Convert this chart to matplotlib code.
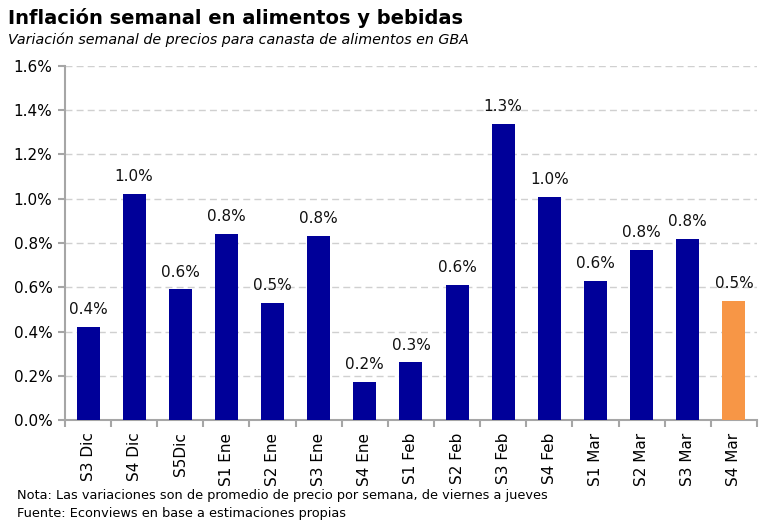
import matplotlib
matplotlib.use("Agg")
import matplotlib.pyplot as plt
from matplotlib.ticker import FuncFormatter, FixedLocator
import numpy as np

categories = ["S3 Dic", "S4 Dic", "S5Dic", "S1 Ene", "S2 Ene", "S3 Ene", "S4 Ene",
              "S1 Feb", "S2 Feb", "S3 Feb", "S4 Feb", "S1 Mar", "S2 Mar", "S3 Mar", "S4 Mar"]
values = [0.42, 1.02, 0.59, 0.84, 0.53, 0.83, 0.17, 0.26, 0.61, 1.34, 1.01, 0.63, 0.77, 0.82, 0.54]
highlight = ["S4 Mar"]

navy = "#000099"
orange = "#F79646"
axis_gray = "#A6A6A6"

plt.rcParams['font.family'] = ['DejaVu Sans']

fig = plt.figure(figsize=(7.68, 5.32), dpi=100)
ax = fig.add_axes([0.0846, 0.2105, 0.901, 0.6655])

x = np.arange(len(categories))
colors = [orange if c in highlight else navy for c in categories]
ax.bar(x, values, width=0.5, color=colors, zorder=3)

for xi, v in zip(x, values):
    ax.text(xi, v + 0.045, f"{v:.1f}%", ha="center", va="bottom", fontsize=11, color="#111111", zorder=4)

ax.set_xlim(-0.5, len(categories) - 0.5)
ax.set_ylim(0, 1.6)
ax.set_yticks(np.arange(0, 1.61, 0.2))
ax.yaxis.set_major_formatter(FuncFormatter(lambda v, p: f"{v:.1f}%"))
ax.grid(axis="y", color="#D0D0D0", linestyle=(0, (5, 3)), linewidth=1, zorder=0)

ax.set_xticks(x)
ax.set_xticklabels(categories, rotation=90, fontsize=11)
ax.xaxis.set_minor_locator(FixedLocator(np.arange(-0.5, len(categories), 1)))
ax.tick_params(axis="x", which="major", length=0, pad=9)
ax.tick_params(axis="x", which="minor", length=5, color=axis_gray, width=1.5)
ax.tick_params(axis="y", length=5, color=axis_gray, width=1.5, labelsize=11, pad=4)

for s in ["top", "right"]:
    ax.spines[s].set_visible(False)
for s in ["left", "bottom"]:
    ax.spines[s].set_color(axis_gray)
    ax.spines[s].set_linewidth(1.5)

fig.text(0.010, 0.966, "Inflación semanal en alimentos y bebidas", fontsize=14, fontweight="bold", va="center")
fig.text(0.010, 0.925, "Variación semanal de precios para canasta de alimentos en GBA", fontsize=10.3, style="italic", va="center")
fig.text(0.022, 0.069, "Nota: Las variaciones son de promedio de precio por semana, de viernes a jueves", fontsize=9.3, va="center")
fig.text(0.022, 0.035, "Fuente: Econviews en base a estimaciones propias", fontsize=9.3, va="center")

fig.savefig("out.png", dpi=100)
